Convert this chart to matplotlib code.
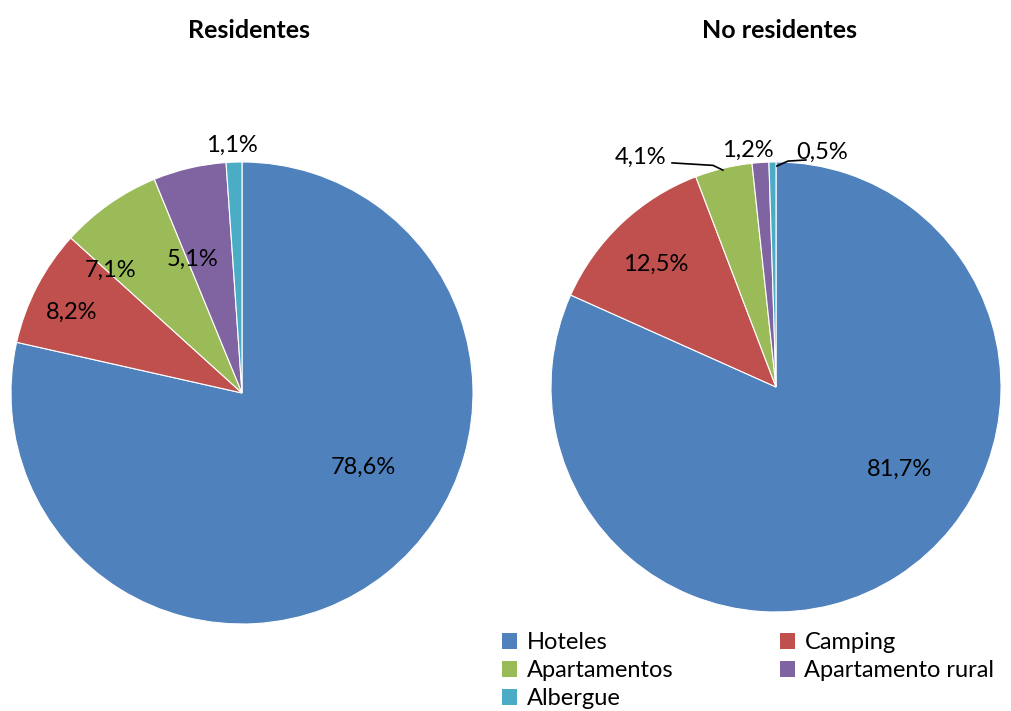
import matplotlib
matplotlib.use('Agg')
import matplotlib.pyplot as plt
from matplotlib.patches import Patch
import numpy as np

plt.rcParams['font.family'] = ['Lato', 'DejaVu Sans']

categories = ['Hoteles', 'Camping', 'Apartamentos', 'Apartamento rural', 'Albergue']
residentes = [78.6, 8.2, 7.1, 5.1, 1.1]
no_residentes = [81.7, 12.5, 4.1, 1.2, 0.5]
colors = ['#4F81BD', '#C0504D', '#9BBB59', '#8064A2', '#4BACC6']

# label placement (pie radius units), mimicking Excel's best fit
pos_res = [(0.524, -0.320), (-0.736, 0.351), (-0.567, 0.532), (-0.212, 0.580), (-0.043, 1.074)]
pos_nores = [(0.551, -0.364), (-0.533, 0.547), (-0.60, 1.022), (-0.124, 1.053), (0.204, 1.044)]


def fmt(v):
    return ('%.1f%%' % v).replace('.', ',')


def draw_pie(rect, vals, pos):
    ax = fig.add_axes(rect)
    ax.pie(vals, colors=colors, startangle=90, counterclock=False,
           wedgeprops=dict(edgecolor='white', linewidth=0.8))
    ax.set_xlim(-1, 1)
    ax.set_ylim(-1, 1)
    ax.set_aspect('auto')
    ax.axis('off')
    for i, v in enumerate(vals):
        ax.text(pos[i][0], pos[i][1], fmt(v), ha='center', va='center',
                fontsize=17, clip_on=False)
    return ax


fig = plt.figure(figsize=(10.11, 7.11), dpi=100)

ax1 = draw_pie([11 / 1011, 87 / 711, 462 / 1011, 462 / 711], residentes, pos_res)
ax2 = draw_pie([551 / 1011, 99 / 711, 450 / 1011, 450 / 711], no_residentes, pos_nores)

# leader lines on the small slices
ax2.plot([-0.462, -0.28, -0.236], [0.996, 0.985, 0.964], color='black', lw=1.2, clip_on=False)
ax2.plot([0.004, 0.053, 0.133], [0.982, 1.004, 1.009], color='black', lw=1.2, clip_on=False)

fig.text(249 / 1011, 1 - 30 / 711, 'Residentes', ha='center', va='center',
         fontsize=18, fontweight='bold')
fig.text(780 / 1011, 1 - 30 / 711, 'No residentes', ha='center', va='center',
         fontsize=18, fontweight='bold')

# row-wise legend order (matplotlib fills columns first)
order = [0, 2, 4, 1, 3]
handles = [Patch(facecolor=colors[i], edgecolor='none') for i in order]
fig.legend(handles, [categories[i] for i in order], ncol=2, loc='upper left',
           bbox_to_anchor=(502 / 1011, 1 - 632 / 711), frameon=False,
           fontsize=17, handlelength=0.65, handleheight=0.65, handletextpad=0.4,
           columnspacing=4.5, labelspacing=0.3, borderaxespad=0, borderpad=0)

fig.savefig('out.png', dpi=100)
